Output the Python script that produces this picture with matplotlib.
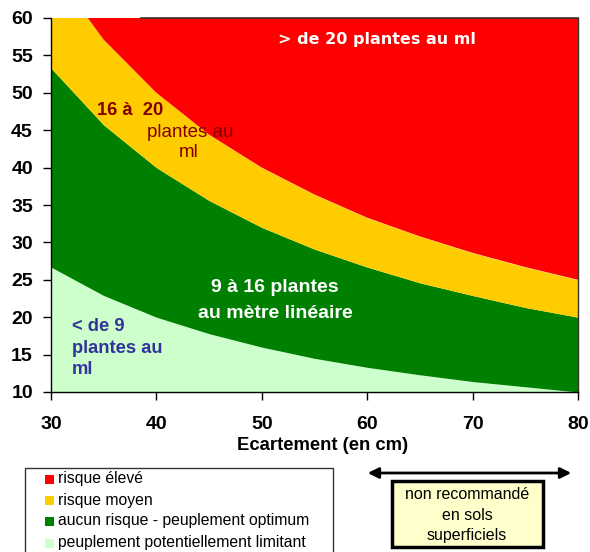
import matplotlib.pyplot as plt
from matplotlib.patches import Rectangle, FancyArrowPatch

# ecartement (cm) et limites de densite (plants/m2)
ecart = [30, 35, 40, 45, 50, 55, 60, 65, 70, 75, 80]
lim_9 = [26.7, 22.9, 20.0, 17.8, 16.0, 14.5, 13.3, 12.3, 11.4, 10.7, 10.0]
lim_16 = [53.3, 45.7, 40.0, 35.6, 32.0, 29.1, 26.7, 24.6, 22.9, 21.3, 20.0]
lim_20 = [66.7, 57.1, 50.0, 44.4, 40.0, 36.4, 33.3, 30.8, 28.6, 26.7, 25.0]
y_top = 60

legend_labels = ["risque élevé", "risque moyen",
                 "aucun risque - peuplement optimum",
                 "peuplement potentiellement limitant"]
colors = ["#ff0000", "#ffcc00", "#008000", "#ccffcc"]

plt.rcParams['font.family'] = ['Liberation Sans', 'DejaVu Sans']

W, H = 590, 552
fig = plt.figure(figsize=(W / 100, H / 100), dpi=100)
ax = fig.add_axes([51 / W, 1 - 392 / H, 527 / W, 374 / H])

ax.fill_between(ecart, 0, lim_9, color=colors[3], lw=0)
ax.fill_between(ecart, lim_9, lim_16, color=colors[2], lw=0)
ax.fill_between(ecart, lim_16, lim_20, color=colors[1], lw=0)
ax.fill_between(ecart, lim_20, 100, color=colors[0], lw=0)

ax.set_xlim(30, 80)
ax.set_ylim(10, y_top)
ax.set_xticks(range(30, 81, 10))
ax.set_yticks(range(10, 61, 5))
ax.tick_params(labelsize=14, length=6, width=1, direction='out', pad=7)
ax.tick_params(axis='x', pad=11)
for lab in ax.get_xticklabels() + ax.get_yticklabels():
    lab.set_fontweight('bold')
for s in ax.spines.values():
    s.set_linewidth(1)
ax.spines['right'].set_color('#333333')
# le cadre du haut n'apparait qu'a partir d'environ 38.5 cm
ax.spines['top'].set_visible(False)
ax.plot([38.5, 80], [y_top, y_top], color='#333333', lw=1.2, clip_on=False)
ax.set_xlabel("Ecartement (en cm)", fontsize=13.3, fontweight='bold')
ax.xaxis.label.set_va('center')
ax.xaxis.set_label_coords((323 - 51) / 527, -(446 - 392) / 374)

# textes dans les zones
ax.text(60.9, 57.1, "> de 20 plantes au ml", color='white', fontsize=11.5,
        fontweight='bold', ha='center', va='center', family=['DejaVu Sans'])
ax.text(37.5, 47.7, "16 à  20", color='#800000', fontsize=13.2, fontweight='bold',
        ha='center', va='center')
ax.text(43.2, 44.7, "plantes au", color='#800000', fontsize=13.5, ha='center', va='center')
ax.text(43.1, 42.0, "ml", color='#800000', fontsize=13.5, ha='center', va='center')
ax.text(51.25, 24.0, "9 à 16 plantes", color='white', fontsize=14, fontweight='bold',
        ha='center', va='center')
ax.text(51.25, 20.56, "au mètre linéaire", color='white', fontsize=14, fontweight='bold',
        ha='center', va='center')
ax.text(32.0, 15.88, "< de 9\nplantes au\nml", color='#333399', fontsize=13.2,
        fontweight='bold', ha='left', va='center', linespacing=1.38)

# legende (cadre dessine a la main)
fig.patches.append(Rectangle((25 / W, 1 - 560 / H), 308 / W, 92 / H,
                             transform=fig.transFigure, facecolor='white',
                             edgecolor='#333333', lw=1))
row_y = [479, 500, 521, 543]
for c, lab, yy in zip(colors, legend_labels, row_y):
    fig.patches.append(Rectangle((45 / W, 1 - (yy + 4.5) / H), 9 / W, 9 / H,
                                 transform=fig.transFigure, facecolor=c,
                                 edgecolor='none'))
    fig.text(58 / W, 1 - yy / H, lab, fontsize=11.3, ha='left', va='center')

# fleche et encadre
fig.patches.append(FancyArrowPatch(
    (365 / W, 1 - 473 / H), (574 / W, 1 - 473 / H),
    transform=fig.transFigure, arrowstyle='<|-|>', mutation_scale=16,
    color='black', lw=2))
fig.patches.append(Rectangle((392 / W, 1 - 547 / H), 151 / W, 66 / H,
                             transform=fig.transFigure, facecolor='#ffffcc',
                             edgecolor='black', lw=2.5))
fig.text(467 / W, 1 - 515 / H, "non recommandé\nen sols\nsuperficiels",
         ha='center', va='center', fontsize=11.5, linespacing=1.45)

fig.savefig("out.png", dpi=100)
